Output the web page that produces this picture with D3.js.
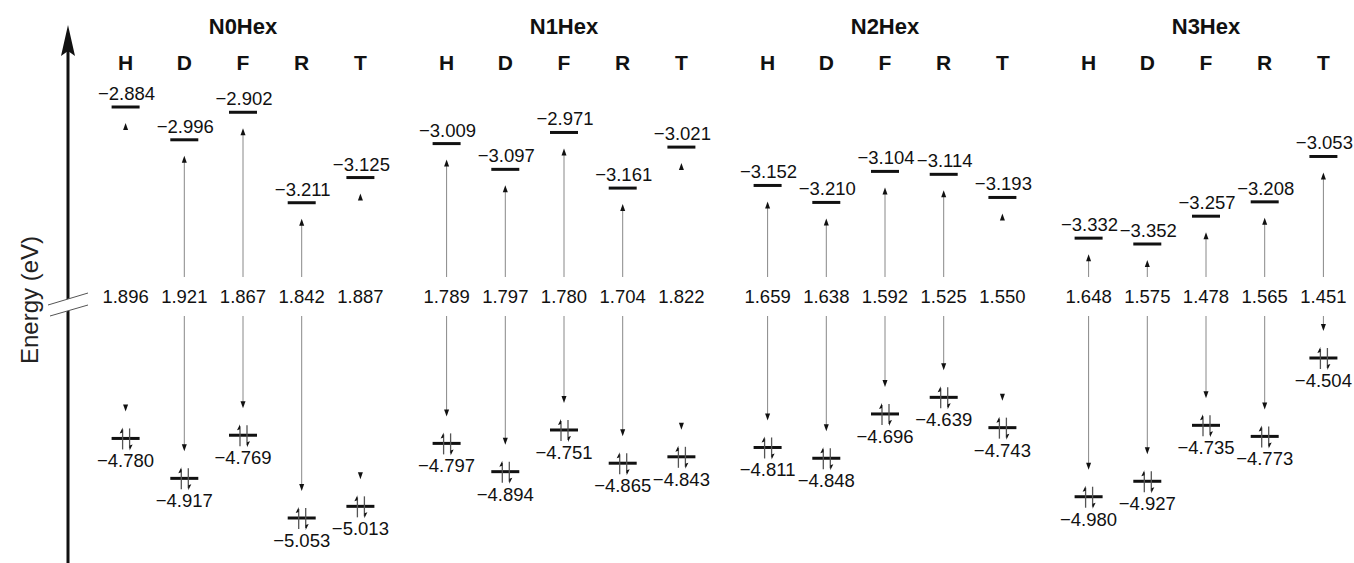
<!DOCTYPE html>
<html>
<head>
<meta charset="utf-8">
<script src="https://cdn.jsdelivr.net/npm/d3@7"></script>
<style>
  body { margin: 0; background: #fff; }
  svg { display: block; font-family: "Liberation Sans", Arial, sans-serif; }
</style>
</head>
<body>
<svg id="chart" width="1354" height="563"></svg>
<script>
// molecules and substituent columns
let groups = ["N0Hex", "N1Hex", "N2Hex", "N3Hex"];
let columns = ["H", "D", "F", "R", "T"];

// LUMO energies (eV), one row per group
let lumo = [
    [-2.884, -2.996, -2.902, -3.211, -3.125],
    [-3.009, -3.097, -2.971, -3.161, -3.021],
    [-3.152, -3.210, -3.104, -3.114, -3.193],
    [-3.332, -3.352, -3.257, -3.208, -3.053]
];

// HOMO energies (eV)
let homo = [
    [-4.780, -4.917, -4.769, -5.053, -5.013],
    [-4.797, -4.894, -4.751, -4.865, -4.843],
    [-4.811, -4.848, -4.696, -4.639, -4.743],
    [-4.980, -4.927, -4.735, -4.773, -4.504]
];

// band gaps (eV)
let gaps = [
    [1.896, 1.921, 1.867, 1.842, 1.887],
    [1.789, 1.797, 1.780, 1.704, 1.822],
    [1.659, 1.638, 1.592, 1.525, 1.550],
    [1.648, 1.575, 1.478, 1.565, 1.451]
];

// arrows whose shaft shows in the figure (others only have the head)
let shaftShown = [
    [false, true, true, true, false],
    [true, true, true, true, false],
    [true, true, true, true, false],
    [true, true, true, true, true]
];

let svg = d3.select("#chart");

// scales
let xGroup = d3.scalePoint().domain(groups).range([243, 1206]);
let xCol = d3.scalePoint().domain(columns).range([-117.4, 117.4]);
// broken energy axis: upper part for LUMO, lower part for HOMO
let yLumo = d3.scaleLinear().domain([-2.884, -3.352]).range([107, 244]);
let yHomo = d3.scaleLinear().domain([-4.504, -5.053]).range([358, 518]);

let fmt = d3.format(".3f");
let minus = v => fmt(v).replace("-", "\u2212");

// flatten the table into one record per level pair
let levels = [];
groups.forEach(function (g, i) {
    columns.forEach(function (c, j) {
        levels.push({
            group: g, col: c,
            x: xGroup(g) + xCol(c),
            lumo: lumo[i][j], homo: homo[i][j], gap: gaps[i][j],
            shaft: shaftShown[i][j]
        });
    });
});

// y axis with arrow
svg.append("line")
    .attr("x1", 68).attr("x2", 68)
    .attr("y1", 563).attr("y2", 48)
    .attr("stroke", "#111")
    .attr("stroke-width", 3);
svg.append("path")
    .attr("d", "M68,25 L61,56 L68,51 L75,56 Z")
    .attr("fill", "#111");

// axis break
svg.append("path")
    .attr("d", "M48,305 L88,293 L88,305 L50,316 Z")
    .attr("fill", "#fff");
svg.append("line")
    .attr("x1", 48).attr("y1", 305).attr("x2", 88).attr("y2", 293)
    .attr("stroke", "#555").attr("stroke-width", 1);
svg.append("line")
    .attr("x1", 50).attr("y1", 316).attr("x2", 88).attr("y2", 305)
    .attr("stroke", "#555").attr("stroke-width", 1);

svg.append("text")
    .text("Energy (eV)")
    .attr("transform", "translate(38,300) rotate(-90)")
    .style("text-anchor", "middle")
    .style("font-size", "24px")
    .attr("fill", "#222");

// group titles
svg.selectAll(".group-title")
    .data(groups)
    .join("text")
    .attr("class", "group-title")
    .text(d => d)
    .attr("x", d => xGroup(d))
    .attr("y", 34)
    .style("text-anchor", "middle")
    .style("font-size", "22px")
    .style("font-weight", "bold")
    .attr("fill", "#111");

// column letters
svg.selectAll(".col-title")
    .data(levels)
    .join("text")
    .attr("class", "col-title")
    .text(d => d.col)
    .attr("x", d => d.x)
    .attr("y", 70)
    .style("text-anchor", "middle")
    .style("font-size", "21px")
    .style("font-weight", "bold")
    .attr("fill", "#111");

let cells = svg.selectAll(".level")
    .data(levels)
    .join("g")
    .attr("class", "level");

// LUMO bars and labels
cells.append("line")
    .attr("x1", d => d.x - 14).attr("x2", d => d.x + 14)
    .attr("y1", d => yLumo(d.lumo)).attr("y2", d => yLumo(d.lumo))
    .attr("stroke", "#111").attr("stroke-width", 3);
cells.append("text")
    .text(d => minus(d.lumo))
    .attr("x", d => d.x + 1)
    .attr("y", d => yLumo(d.lumo) - 7)
    .style("text-anchor", "middle")
    .style("font-size", "18.5px")
    .attr("fill", "#111");

// HOMO bars and labels
cells.append("line")
    .attr("x1", d => d.x - 14).attr("x2", d => d.x + 14)
    .attr("y1", d => yHomo(d.homo)).attr("y2", d => yHomo(d.homo))
    .attr("stroke", "#111").attr("stroke-width", 3);
cells.append("text")
    .text(d => minus(d.homo))
    .attr("x", d => d.x)
    .attr("y", d => yHomo(d.homo) + 29)
    .style("text-anchor", "middle")
    .style("font-size", "18.5px")
    .attr("fill", "#111");

// paired electrons on HOMO
cells.append("line")
    .attr("x1", d => d.x - 3).attr("x2", d => d.x - 3)
    .attr("y1", d => yHomo(d.homo) + 11).attr("y2", d => yHomo(d.homo) - 9)
    .attr("stroke", "#555").attr("stroke-width", 1.3);
cells.append("path")
    .attr("d", function (d) {
        let x = d.x - 3, y = yHomo(d.homo) - 11;
        return "M" + x + "," + y + " L" + (x - 3) + "," + (y + 6) + " L" + x + "," + (y + 5) + " Z";
    })
    .attr("fill", "#111");
cells.append("line")
    .attr("x1", d => d.x + 4).attr("x2", d => d.x + 4)
    .attr("y1", d => yHomo(d.homo) - 10).attr("y2", d => yHomo(d.homo) + 10)
    .attr("stroke", "#555").attr("stroke-width", 1.3);
cells.append("path")
    .attr("d", function (d) {
        let x = d.x + 4, y = yHomo(d.homo) + 12;
        return "M" + x + "," + y + " L" + (x + 3) + "," + (y - 6) + " L" + x + "," + (y - 5) + " Z";
    })
    .attr("fill", "#111");

// gap values
cells.append("text")
    .text(d => fmt(d.gap))
    .attr("x", d => d.x)
    .attr("y", 303)
    .style("text-anchor", "middle")
    .style("font-size", "18.5px")
    .attr("fill", "#111");

// excitation arrows: up towards LUMO, down towards HOMO
cells.filter(d => d.shaft).append("line")
    .attr("x1", d => d.x).attr("x2", d => d.x)
    .attr("y1", 277).attr("y2", d => yLumo(d.lumo) + 20)
    .attr("stroke", "#888").attr("stroke-width", 1);
cells.append("path")
    .attr("d", function (d) {
        let y = yLumo(d.lumo) + 16;
        return "M" + d.x + "," + y + " L" + (d.x - 2.5) + "," + (y + 7) + " L" + (d.x + 2.5) + "," + (y + 7) + " Z";
    })
    .attr("fill", "#111");

cells.filter(d => d.shaft).append("line")
    .attr("x1", d => d.x).attr("x2", d => d.x)
    .attr("y1", 316).attr("y2", d => yHomo(d.homo) - 31)
    .attr("stroke", "#888").attr("stroke-width", 1);
cells.append("path")
    .attr("d", function (d) {
        let y = yHomo(d.homo) - 27;
        return "M" + d.x + "," + y + " L" + (d.x - 2.5) + "," + (y - 7) + " L" + (d.x + 2.5) + "," + (y - 7) + " Z";
    })
    .attr("fill", "#111");
</script>
</body>
</html>
